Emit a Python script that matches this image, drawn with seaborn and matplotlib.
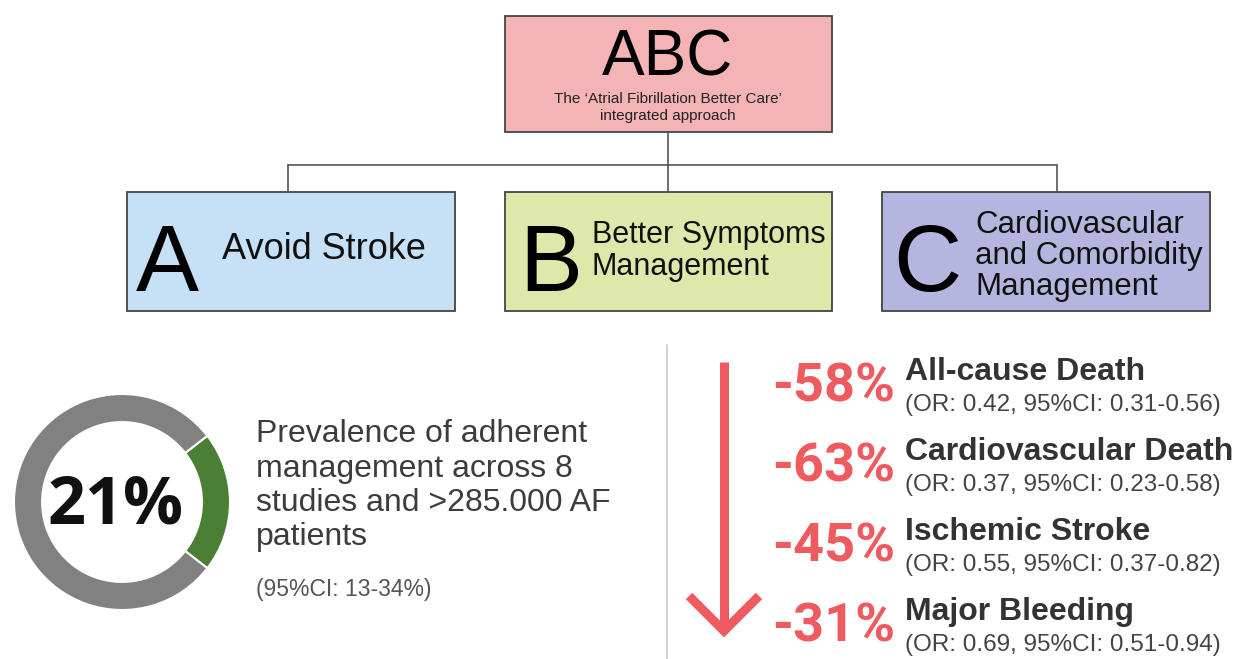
import matplotlib
matplotlib.use("Agg")
import matplotlib.pyplot as plt
from matplotlib.patches import Rectangle
import seaborn as sns

# --- data ---
header = "ABC"
header_sub = ["The \u2018Atrial Fibrillation Better Care\u2019", "integrated approach"]
pillar_letters = ["A", "B", "C"]
pillar_labels = [["Avoid Stroke"],
                 ["Better Symptoms", "Management"],
                 ["Cardiovascular", "and Comorbidity", "Management"]]
pillar_colors = ["#c6e1f5", "#dde8aa", "#b4b6e0"]

adherent_pct = 21
adherent_ci = (13, 34)
prevalence_lines = ["Prevalence of adherent", "management across 8",
                    "studies and >285.000 AF", "patients"]

outcomes = ["All-cause Death", "Cardiovascular Death", "Ischemic Stroke", "Major Bleeding"]
reductions = [-58, -63, -45, -31]
odds_ratios = [0.42, 0.37, 0.55, 0.69]
ci_low = [0.31, 0.23, 0.37, 0.51]
ci_high = [0.56, 0.58, 0.82, 0.94]

RED = "#ef5a5e"
GREEN = "#4b7f36"
GRAY = "#818181"

sns.set_theme(style="white")
plt.rcParams["font.family"] = ["Liberation Sans", "DejaVu Sans"]

W, H = 1236, 659
fig = plt.figure(figsize=(W / 100, H / 100), dpi=100)
ax = fig.add_axes([0, 0, 1, 1])
ax.set_xlim(0, W)
ax.set_ylim(H, 0)
ax.axis("off")

# top box
ax.add_patch(Rectangle((505, 16), 327, 116, facecolor="#f4b4b6", edgecolor="#444444", lw=1.3))
ax.text(668, 75, header, fontsize=46, ha="center", va="baseline", color="black")
ax.text(668, 103, header_sub[0], fontsize=11, ha="center", va="baseline", color="#222222")
ax.text(668, 120, header_sub[1], fontsize=11, ha="center", va="baseline", color="#222222")

# connectors
line_kw = dict(color="#555555", lw=1.2)
ax.plot([668, 668], [132, 165], **line_kw)
ax.plot([288, 1057], [165, 165], **line_kw)
box_x = [127, 505, 882]
box_w = [328, 327, 328]
conn_x = [288, 668, 1057]
for cx in conn_x:
    ax.plot([cx, cx], [165, 192], **line_kw)

# pillar boxes
letter_cx = [167, 551, 927]
label_x = [222, 592, 975]
label_base = [[259], [243, 275], [233, 264, 295]]
label_size = [26, 22, 22.5]
for i in range(3):
    ax.add_patch(Rectangle((box_x[i], 192), box_w[i], 119, facecolor=pillar_colors[i],
                           edgecolor="#444444", lw=1.3))
    ax.text(letter_cx[i], 291, pillar_letters[i], fontsize=68, ha="center",
            va="baseline", color="black")
    for txt, yb in zip(pillar_labels[i], label_base[i]):
        ax.text(label_x[i], yb, txt, fontsize=label_size[i], ha="left",
                va="baseline", color="#111111")

# donut
dax = fig.add_axes([14 / W, 1 - 610 / H, 216 / W, 216 / H])
dax.pie([adherent_pct, 100 - adherent_pct], colors=[GREEN, GRAY],
        startangle=-adherent_pct * 3.6 / 2, counterclock=True,
        wedgeprops=dict(width=0.26, edgecolor="white", linewidth=1.5))
dax.set_xlim(-1, 1)
dax.set_ylim(-1, 1)
dax.axis("off")
ax.text(116, 523, f"{adherent_pct}%", fontsize=48, fontweight="bold",
        family=["Open Sans", "DejaVu Sans"], ha="center", va="baseline", color="#111111")

for i, line in enumerate(prevalence_lines):
    ax.text(256, 442 + i * 34.5, line, fontsize=23, ha="left", va="baseline", color="#3c3c3c")
ax.text(256, 596, f"(95%CI: {adherent_ci[0]}-{adherent_ci[1]}%)", fontsize=16.5,
        ha="left", va="baseline", color="#555555")

# divider
ax.plot([667, 667], [345, H], color="#cfcfcf", lw=1.3)

# arrow
ax.plot([724, 724], [362, 628], color=RED, lw=6.5, solid_capstyle="butt")
ax.plot([689, 724, 759], [596, 631, 596], color=RED, lw=6.5,
        solid_joinstyle="miter", solid_capstyle="butt")

# outcomes
for i, name in enumerate(outcomes):
    base = 402 + i * 80
    ax.text(895, base, f"{reductions[i]}%", fontsize=39, fontweight="bold",
            family=["Roboto", "DejaVu Sans"], ha="right", va="baseline", color=RED)
    ax.text(905, base - 22, name, fontsize=23, fontweight="bold", ha="left",
            va="baseline", color="#333333")
    ax.text(905, base + 9,
            f"(OR: {odds_ratios[i]:.2f}, 95%CI: {ci_low[i]:.2f}-{ci_high[i]:.2f})",
            fontsize=17.5, ha="left", va="baseline", color="#444444")

fig.savefig("out.png", dpi=100, facecolor="white")
